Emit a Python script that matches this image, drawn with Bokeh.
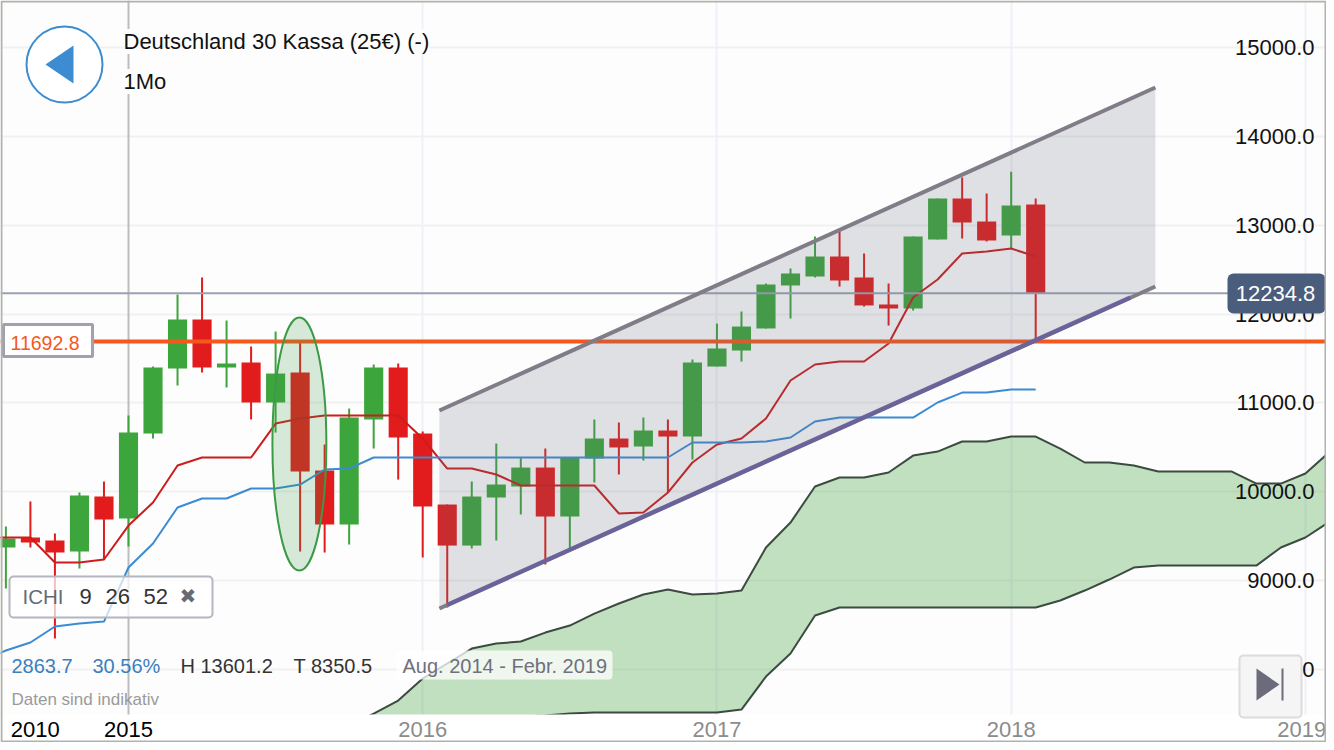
from bokeh.plotting import figure
from bokeh.embed import file_html
from bokeh.resources import INLINE
from bokeh.models import (Range1d, LinearAxis, Grid, FixedTicker, NumeralTickFormatter,
                          ColumnDataSource, Label, BoxAnnotation, PolyAnnotation)

# Monthly index: 0 = Aug 2014
open_ = [9373, 9486, 9452, 9328, 9947, 9699, 10656, 11388, 11939, 11399, 11455, 11005, 11342, 10240, 9632, 10814,
         11399, 10656, 9857, 9395, 9936, 10060, 10273, 9722, 10375, 10600, 10510, 10690, 10622, 11410, 11590, 11838,
         12322, 12423, 12648, 12412, 12108, 12063, 12839, 13301, 13042, 12884, 13233]
close = [9474, 9429, 9317, 9958, 9688, 10667, 11399, 11939, 11399, 11444, 11005, 11331, 10228, 9632, 10836, 11399,
         10611, 9834, 9395, 9947, 10082, 10273, 9722, 10386, 10600, 10499, 10690, 10622, 11455, 11613, 11860, 12333,
         12457, 12648, 12378, 12097, 12063, 12873, 13301, 13031, 12828, 13222, 12234.8]
high = [9609, 9891, 9531, 9992, 10116, 10859, 11410, 12220, 12412, 11928, 11635, 11804, 11680, 10532, 10937, 11433,
        11444, 10679, 9857, 10116, 10543, 10386, 10487, 10386, 10814, 10780, 10836, 10814, 11489, 11894, 12029, 12344,
        12513, 12873, 12941, 12682, 12344, 12873, 13301, 13537, 13357, 13601.2, 13301]
low = [8912, 9373, 8350.5, 9137, 9238, 9384, 10600, 11196, 11342, 11174, 10814, 10667, 9328, 9317, 9407, 10487,
       10138, 9261, 8698, 9362, 9452, 9745, 9182, 9351, 10105, 10195, 10352, 9992, 10363, 11410, 11466, 11838,
       11950, 12412, 12310, 12085, 11871, 12040, 12839, 12851, 12817, 12738, 11692.8]

# Indicator lines start one month before the first visible candle
line_start = -1
tenkan = [9486, 9486, 9486, 9204, 9204, 9238, 9620, 9880, 10296, 10386, 10386, 10386, 10768, 10825, 10859, 10859, 10859,
          10859, 10600, 10262, 10262, 10195, 10071, 10071, 10071, 10071, 9756, 9767, 9992, 10330, 10532, 10600, 10825,
          11253, 11433, 11466, 11466, 11669, 12187, 12389, 12682, 12704, 12738, 12648]
kijun = [8100, 8214, 8304, 8484, 8518, 8540, 9148, 9418, 9823, 9925, 9925, 10037, 10037, 10082, 10251, 10262,
         10386, 10386, 10386, 10386, 10386, 10386, 10386, 10386, 10386, 10386, 10386, 10386, 10386,
         10555, 10555, 10555, 10566, 10611, 10791, 10836, 10836, 10836, 10836, 11005, 11117, 11117, 11151, 11151]

cloud_start = 14
cloud_upper = [7370, 7505, 7651, 7899, 8068, 8236, 8293, 8315, 8416, 8495, 8630, 8743, 8844, 8900, 8844, 8855, 8889,
               9373, 9654, 10060, 10161, 10161, 10217, 10408, 10453, 10566, 10566, 10622, 10622, 10487, 10330, 10330,
               10296, 10228, 10228, 10228, 10228, 10093, 10093, 10206, 10453, 10566]
cloud_lower = [7404, 7415, 7426, 7437, 7448, 7460, 7471, 7471, 7482, 7505, 7516, 7516, 7516, 7516, 7516, 7516, 7550,
               7921, 8180, 8608, 8698, 8698, 8698, 8698, 8698, 8698, 8698, 8698, 8698, 8777, 8889, 9013,
               9148, 9170, 9170, 9170, 9170, 9170, 9373, 9486, 9666, 9789]

channel_x = [17.68, 46.88]
channel_top = [10915, 14550]
channel_bottom = [8687, 12310]
support_x = [18.0, 45.86]
support_y = [8727, 12187]

ellipse_x = 11.97
ellipse_y = 10538
ellipse_w = 2.2
ellipse_h = 2847

last_price = 12234.8
level_price = 11692.8

price_ticks = [8000, 9000, 10000, 11000, 12000, 13000, 14000, 15000]
year_grid = [17, 29, 41, 53]
year_ticks_grey = {17: "2016", 29: "2017", 41: "2018", 52.85: "2019"}
year_ticks_black = {1.2: "2010", 5: "2015"}

FONT = "Liberation Sans"
months = list(range(len(open_)))
line_x = [line_start + k for k in range(len(tenkan))]
X_START, X_END = -0.22, 53.86
Y_BAND = 7494  # price at the top of the date strip


def sy(y):
    return 742 - y


p = figure(width=1326, height=742, output_backend="svg", toolbar_location=None,
           x_range=Range1d(X_START, X_END), y_range=Range1d(7179, 15529),
           x_axis_type=None, y_axis_type=None,
           min_border_left=0, min_border_right=0, min_border_top=0, min_border_bottom=0,
           background_fill_color="#fdfdfd", border_fill_color="#ffffff",
           outline_line_color=None)

# axes and grids
yax = LinearAxis(ticker=FixedTicker(ticks=price_ticks), formatter=NumeralTickFormatter(format="0.0"),
                 fixed_location=53.37, axis_line_color=None, major_tick_line_color=None, minor_tick_line_color=None,
                 major_tick_out=0, major_tick_in=0,
                 major_label_text_font=FONT, major_label_text_font_size="22px", major_label_text_color="#111111",
                 major_label_standoff=0)
p.add_layout(yax, "left")
for ticks, color in ((year_ticks_grey, "#8c8c8c"), (year_ticks_black, "#000000")):
    xax = LinearAxis(ticker=FixedTicker(ticks=list(ticks)), major_label_overrides=ticks, fixed_location=Y_BAND,
                     axis_line_color=None, major_tick_line_color=None, minor_tick_line_color=None,
                     major_tick_out=0, major_tick_in=0,
                     major_label_text_font=FONT, major_label_text_font_size="22px", major_label_text_color=color,
                     major_label_standoff=7)
    p.add_layout(xax, "below")

p.add_layout(Grid(dimension=1, ticker=FixedTicker(ticks=price_ticks), grid_line_color="#f1f1f1", grid_line_width=2))
p.add_layout(Grid(dimension=0, ticker=FixedTicker(ticks=year_grid), grid_line_color="#eff0f8", grid_line_width=2))
p.add_layout(Grid(dimension=0, ticker=FixedTicker(ticks=[5]), grid_line_color="#bdbdbd", grid_line_width=2))

# cloud
cloud_x = [cloud_start + k for k in range(len(cloud_upper))]
p.varea(x=cloud_x, y1=cloud_lower, y2=cloud_upper, fill_color="#2e9a2e", fill_alpha=0.29)
p.line(cloud_x, cloud_upper, line_color="#3c4a40", line_width=2)
p.line(cloud_x, cloud_lower, line_color="#3c4a40", line_width=2)

# candles
up = [c >= o for o, c in zip(open_, close)]
src = ColumnDataSource(dict(
    x=months, high=high, low=low,
    top=[max(o, c) for o, c in zip(open_, close)],
    bottom=[min(o, c) for o, c in zip(open_, close)],
    color=["#3ca63c" if u else "#e21c1c" for u in up],
))
p.segment("x", "high", "x", "low", source=src, line_color="color", line_width=2)
p.vbar("x", 0.78, "top", "bottom", source=src, fill_color="color", line_color=None)

# indicator lines
p.line(line_x, tenkan, line_color="#cc1c1c", line_width=2)
p.line(line_x, kijun, line_color="#3b8bd4", line_width=2)

# levels
p.line([X_START, X_END], [last_price, last_price], line_color="#9aa2b2", line_width=2)
p.line([X_START, X_END], [level_price, level_price], line_color="#f4581c", line_width=4)

# channel
p.varea(x=channel_x, y1=channel_bottom, y2=channel_top, fill_color="#696c7c", fill_alpha=0.2)
p.line(channel_x, channel_top, line_color="#807c88", line_width=4)
p.line(channel_x, channel_bottom, line_color="#807c88", line_width=4)
p.line(support_x, support_y, line_color="#665f9c", line_width=4.5, line_alpha=0.85)

# ellipse
p.ellipse(x=[ellipse_x], y=[ellipse_y], width=[ellipse_w], height=[ellipse_h],
          fill_color="#3c9a45", fill_alpha=0.2, line_color="#3c9a45", line_width=2)


def text(t, x, y, size, color, align="left", font=FONT, bg=None, style="normal", level="annotation"):
    p.add_layout(Label(x=x, y=sy(y), x_units="screen", y_units="screen", text=t,
                       text_font=font, text_font_size=f"{size}px", text_color=color,
                       text_align=align, text_baseline="middle", text_font_style=style,
                       background_fill_color=bg, level=level))


def box(x0, y0, x1, y1, fill, alpha=1.0, line=None, lw=2, radius=0, level="annotation"):
    p.add_layout(BoxAnnotation(left=x0, right=x1, top=sy(y0), bottom=sy(y1),
                               left_units="screen", right_units="screen", top_units="screen", bottom_units="screen",
                               fill_color=fill, fill_alpha=alpha, line_color=line, line_alpha=1, line_width=lw,
                               border_radius=radius, level=level))


def poly(xs, ys, color):
    p.add_layout(PolyAnnotation(xs=xs, ys=[sy(v) for v in ys],
                                xs_units="screen", ys_units="screen",
                                fill_color=color, fill_alpha=1, line_color=None))


# date strip: hides the marks below the chart area, sits under the axis labels
box(0, 714, 1326, 742, "#ffffff", level="glyph")

# back button and header
box(26, 26, 102, 102, "#ffffff", line="#3d8bd0", lw=2, radius=38)
poly([45, 73, 73], [64, 45, 83], "#3d8bd0")
text("Deutschland 30 Kassa (25€) (-)", 123, 41, 22, "#111111", bg="#fdfdfd")
text("1Mo", 123, 81, 22, "#111111", bg="#fdfdfd")

# level tag
box(3, 324, 92, 356, "#ffffff", line="#a0a0ae", lw=3)
text("11692.8", 10, 342, 19.5, "#f4581c")

# last price tag
box(1227, 273, 1325, 313, "#4a5d7c", radius=6, level="overlay")
text("12234.8", 1275, 293, 22, "#ffffff", align="center", level="overlay")

# indicator chip
box(9, 576, 212, 617, "#ffffff", alpha=0.72, line="#b4b6c0", lw=2, radius=4)
text("ICHI", 22, 596, 20.5, "#666a74")
text("9", 79, 596, 22, "#333333")
text("26", 105, 596, 22, "#333333")
text("52", 143, 596, 22, "#333333")
text("✖", 179, 595, 20, "#666a74", font="DejaVu Sans")

# stats row
text("2863.7", 11, 665, 20, "#3a80c0")
text("30.56%", 92, 665, 20, "#3a80c0")
text("H 13601.2", 180, 665, 20, "#333333")
text("T 8350.5", 293, 665, 20, "#333333")
box(396, 650, 612, 679, "#ffffff", alpha=0.75, radius=4)
text("Aug. 2014 - Febr. 2019", 402, 665, 20, "#70707c")
text("Daten sind indikativ", 11, 699, 17, "#9a9a9a")

# jump-to-end button
box(1239, 655, 1301, 717, "#f5f5f5", line="#dcdcdc", lw=2, radius=4)
poly([1256, 1279, 1256], [668, 684, 700], "#6b6b7b")
poly([1281, 1283, 1283, 1281], [668, 668, 700, 700], "#6b6b7b")

# page frame
p.add_layout(BoxAnnotation(left=1, right=1325, top=1, bottom=741,
                           left_units="canvas", right_units="canvas", top_units="canvas", bottom_units="canvas",
                           fill_alpha=0, line_color="#b2b2aa", line_alpha=1, line_width=2, level="overlay"))

open("out.html", "w").write(file_html(p, INLINE))
